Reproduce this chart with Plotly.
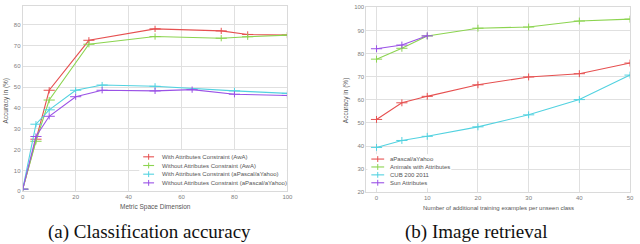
import plotly.graph_objects as go

# ---- Data: (a) Classification accuracy ----
dim_red = [0, 5, 10, 25, 50, 75, 85, 100]
acc_red = [1, 25, 48.5, 72.5, 78, 77, 75.3, 75]
dim_green = [0, 5, 10, 25, 50, 75, 85, 100]
acc_green = [1, 24, 43.8, 70.6, 74.3, 73.5, 74.2, 75]
dim_cyan = [0, 5, 10, 20, 30, 50, 80, 100]
acc_cyan = [1, 32.2, 39.1, 48.5, 51, 50.4, 48.2, 47]
dim_purple = [0, 5, 10, 20, 30, 50, 64, 80, 100]
acc_purple = [1, 26.3, 36, 45.4, 48.5, 48.2, 48.8, 46.6, 46]
names_a = ["With Attributes Constraint (AwA)", "Without Attributes Constraint (AwA)",
           "With Attributes Constraint (aPascal/aYahoo)", "Without Attributes Constraint (aPascal/aYahoo)"]

# ---- Data: (b) Image retrieval ----
n_extra = [0, 5, 10, 20, 30, 40, 50]
ret_apy = [51.5, 58.7, 61.5, 66.5, 69.9, 71.3, 75.9]
ret_awa = [77.6, 82.3, 87.6, 91.0, 91.5, 94.1, 94.9]
ret_cub = [39.4, 42.4, 44.2, 48.3, 53.5, 60.1, 70.7]
n_sun = [0, 5, 10]
ret_sun = [82.1, 83.7, 87.7]
names_b = ["aPascal/aYahoo", "Animals with Attributes", "CUB 200 2011", "Sun Attributes"]

xticks_a = [0, 20, 40, 60, 80, 100]
yticks_a = [0, 10, 20, 30, 40, 50, 60, 70, 80]
xticks_b = [0, 10, 20, 30, 40, 50]
yticks_b = [20, 30, 40, 50, 60, 70, 80, 90, 100]

colors = ["#e65050", "#8cd450", "#52d2e0", "#9a52e6"]

W, H = 640, 244
def px(x): return x / W
def py(y): return 1 - y / H

fig = go.Figure()

def add(x, y, c, xa, ya):
    fig.add_trace(go.Scatter(
        x=x, y=y, mode="lines+markers", xaxis=xa, yaxis=ya, showlegend=False,
        line=dict(color=c, width=1.1),
        marker=dict(symbol="line-ew-open", size=8, color=c, line=dict(color=c, width=1)),
        error_y=dict(type="constant", value=1.5, color=c, thickness=1, width=0),
    ))

for xs, ys, c in zip([dim_red, dim_green, dim_cyan, dim_purple],
                     [acc_red, acc_green, acc_cyan, acc_purple], colors):
    add(xs, ys, c, "x", "y")
for xs, ys, c in zip([n_extra, n_extra, n_extra, n_sun],
                     [ret_apy, ret_awa, ret_cub, ret_sun], colors):
    add(xs, ys, c, "x2", "y2")

axcommon = dict(showgrid=True, gridcolor="#e0e0e0", gridwidth=1, zeroline=False,
                showline=True, linecolor="#dadada", mirror=True, ticks="",
                tickfont=dict(size=6, color="#808080", family="Liberation Sans"))

fig.update_layout(
    width=W, height=H, margin=dict(l=0, r=0, t=0, b=0),
    paper_bgcolor="white", plot_bgcolor="white",
    xaxis=dict(domain=[px(21), px(289)], range=[0, 100], tickvals=xticks_a, anchor="y", **axcommon),
    yaxis=dict(domain=[py(193), py(3)], range=[0, 89], tickvals=yticks_a, anchor="x", **axcommon),
    xaxis2=dict(domain=[px(369), px(636)], range=[-2, 50], tickvals=xticks_b, anchor="y2", **axcommon),
    yaxis2=dict(domain=[py(194), py(4.5)], range=[20, 100], tickvals=yticks_b, anchor="x2", **axcommon),
)

ann = []
shapes = []
gray = "#555"

def text(x, y, t, size, color=gray, family="Liberation Sans", xanchor="center", angle=0):
    ann.append(dict(x=px(x), y=py(y), text=t, showarrow=False, textangle=angle,
                    xref="paper", yref="paper", xanchor=xanchor, yanchor="middle",
                    font=dict(size=size, color=color, family=family)))

# axis titles
text(155, 209, "Metric Space Dimension", 6.5)
text(4, 100, "Accuracy in (%)", 6.5, angle=-90)
text(503, 210, "Number of additional training examples per unseen class", 6)
text(348, 100, "Accuracy in (%)", 6.5, angle=-90)
# captions
text(149, 235, "(a) Classification accuracy", 19, color="#111", family="Liberation Serif")
text(480, 235, "(b) Image retrieval", 19, color="#111", family="Liberation Serif")

# legend (a)
shapes.append(dict(type="rect", xref="paper", yref="paper", x0=px(139), x1=px(288.5), y0=py(192), y1=py(151),
                   fillcolor="white", line=dict(width=0), layer="above"))
for i, (nm, c) in enumerate(zip(names_a, colors)):
    yy = 157.7 + 8.9 * i
    shapes.append(dict(type="line", xref="paper", yref="paper", x0=px(143), x1=px(154), y0=py(yy), y1=py(yy),
                       line=dict(color=c, width=1.1), layer="above"))
    shapes.append(dict(type="line", xref="paper", yref="paper", x0=px(148.5), x1=px(148.5), y0=py(yy - 3), y1=py(yy + 3),
                       line=dict(color=c, width=1), layer="above"))
    text(160, yy, nm, 6, xanchor="left")
# legend (b)
shapes.append(dict(type="rect", xref="paper", yref="paper", x0=px(370), x1=px(455), y0=py(190), y1=py(155),
                   fillcolor="white", line=dict(width=0), layer="above"))
for i, (nm, c) in enumerate(zip(names_b, colors)):
    yy = 160 + 8.1 * i
    shapes.append(dict(type="line", xref="paper", yref="paper", x0=px(374), x1=px(387), y0=py(yy), y1=py(yy),
                       line=dict(color=c, width=1.1), layer="above"))
    shapes.append(dict(type="line", xref="paper", yref="paper", x0=px(380.5), x1=px(380.5), y0=py(yy - 3), y1=py(yy + 3),
                       line=dict(color=c, width=1), layer="above"))
    text(391, yy, nm, 6, xanchor="left")

fig.update_layout(annotations=ann, shapes=shapes)
fig.write_html("out.html", config={"displayModeBar": False},
               post_script="document.body.style.margin='0';document.body.style.overflow='hidden';")
